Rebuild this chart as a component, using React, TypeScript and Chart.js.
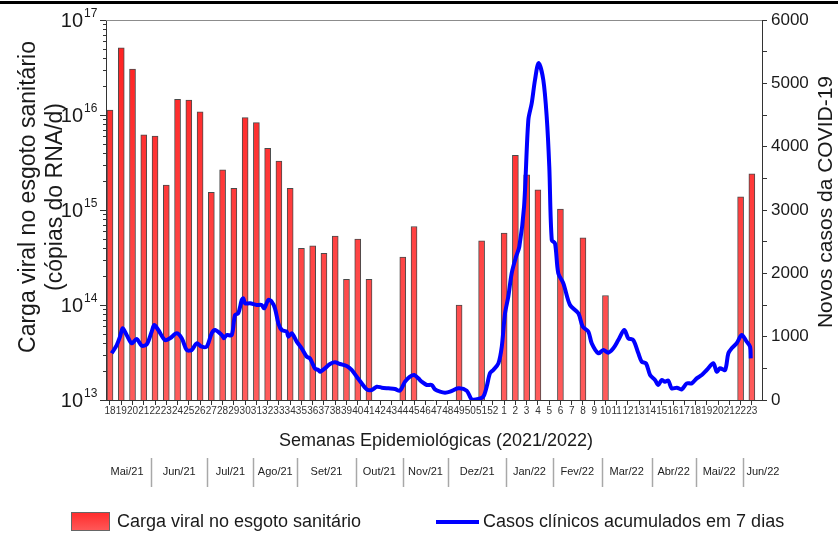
import React, { useEffect, useRef } from 'react';
import { Chart, registerables } from 'chart.js';

Chart.register(...registerables);

// Epidemiological weeks (2021: 18-52, 2022: 1-23)
const weekLabels = [
  '18', '19', '20', '21', '22', '23', '24', '25', '26', '27', '28', '29', '30', '31', '32', '33', '34',
  '35', '36', '37', '38', '39', '40', '41', '42', '43', '44', '45', '46', '47', '48', '49', '50', '51', '52',
  '1', '2', '3', '4', '5', '6', '7', '8', '9', '10', '11', '12', '13', '14', '15', '16', '17', '18', '19',
  '20', '21', '22', '23',
];

// Viral load in sewage (RNA copies / day), one value per week (null = no sample)
const viralLoad: (number | null)[] = [
  1.13e16, 5.1e16, 3.05e16, 6.2e15, 6.0e15, 1.83e15, 1.46e16, 1.44e16, 1.08e16, 1.53e15,
  2.64e15, 1.69e15, 9.4e15, 8.3e15, 4.46e15, 3.28e15, 1.69e15, 3.95e14, 4.2e14, 3.5e14,
  5.3e14, 1.86e14, 4.95e14, 1.86e14, null, null, 3.2e14, 6.7e14, null, null,
  null, 1.0e14, null, 4.75e14, null, 5.7e14, 3.77e15, 2.34e15, 1.63e15, null,
  1.02e15, null, 5.1e14, null, 1.26e14, null, null, null, null, null,
  null, null, null, null, null, null, 1.38e15, 2.41e15,
];

// 7-day accumulated clinical cases: position (week index, fractional) and count
const caseWeekPos = [
  0.15, 0.6, 0.89, 1.13, 1.48, 1.93, 2.37, 2.82, 3.26, 3.7, 3.93, 4.29, 4.88, 5.33, 5.92, 6.37,
  6.81, 7.26, 7.7, 8.14, 8.59, 9.03, 9.33, 9.92, 10.12, 10.36, 10.81, 11.1, 11.39, 11.7, 11.84,
  11.99, 12.43, 13.03, 13.47, 13.7, 14.06, 14.36, 14.65, 14.95, 15.25, 15.69, 15.83, 16.14,
  16.58, 17.02, 17.47, 17.76, 18.21, 18.5, 18.65, 19.09, 19.54, 19.98, 20.43, 21.02, 21.46,
  21.91, 22.35, 22.8, 23.24, 23.69, 24.13, 24.72, 25.31, 25.75, 26.2, 26.64, 27.02, 27.38,
  27.68, 28.13, 28.57, 28.86, 29.31, 29.75, 30.2, 30.93, 31.68, 32.12, 32.71, 33.15, 33.45,
  33.75, 34.04, 34.49, 34.79, 35.08, 35.37, 35.67, 36.06, 36.35, 36.77, 37.15, 37.45, 37.74,
  38.06, 38.48, 38.78, 39.01, 39.23, 39.52, 39.81, 40.26, 40.85, 41.59, 41.98, 42.48, 42.78,
  43.37, 43.81, 44.25, 44.7, 45.14, 45.67, 46.03, 46.47, 46.92, 47.22, 47.6, 47.96, 48.4,
  48.69, 48.99, 49.29, 49.58, 49.88, 50.33, 50.77, 51.22, 51.66, 52.1, 52.55, 52.99, 53.58,
  53.88, 54.17, 54.62, 54.91, 55.21, 55.65, 56.1, 56.54, 56.84, 56.9,
];
const caseCounts = [
  737, 868, 1000, 1132, 1026, 895, 963, 858, 879, 1079, 1184, 1105, 947, 974, 1053, 974,
  790, 790, 895, 842, 842, 1053, 1105, 1026, 974, 1026, 1026, 1342, 1369, 1579, 1605,
  1527, 1527, 1500, 1500, 1448, 1579, 1553, 1448, 1211, 1105, 1079, 1000, 1053,
  921, 816, 684, 658, 495, 474, 447, 500, 568, 595, 568, 537, 474,
  368, 263, 168, 158, 210, 195, 184, 174, 147, 289, 368, 395, 342,
  289, 237, 237, 168, 131, 116, 131, 184, 147, 10, 15, 52, 210,
  426, 474, 579, 842, 1368, 1632, 2000, 2263, 2421, 3053, 4421, 4685, 5053,
  5320, 5053, 4474, 3684, 2526, 2474, 2000, 1842, 1500, 1369, 1158, 1079, 895,
  737, 790, 747, 816, 947, 1105, 974, 947, 737, 605, 579, 395, 316,
  237, 316, 289, 305, 184, 195, 168, 263, 263, 342, 395, 474, 579,
  447, 500, 474, 737, 816, 895, 1026, 921, 842, 658,
];

// Left axis decades (powers of ten)
const leftExponents = [13, 14, 15, 16, 17];
// Right axis range
const rightMin = 0;
const rightMax = 6000;

// Month row under the axis (boundaries in week-index units)
const monthLabels = ['Mai/21', 'Jun/21', 'Jul/21', 'Ago/21', 'Set/21', 'Out/21', 'Nov/21',
  'Dez/21', 'Jan/22', 'Fev/22', 'Mar/22', 'Abr/22', 'Mai/22', 'Jun/22'];
const monthBounds = [-0.62, 3.64, 8.64, 12.73, 16.63, 21.82, 26.0, 30.04, 35.17, 39.32,
  43.67, 48.1, 52.0, 56.19, 59.77];

const xTitle = 'Semanas Epidemiológicas (2021/2022)';
const leftTitle = ['Carga viral no esgoto sanitário', '(cópias do RNA/d)'];
const rightTitle = 'Novos casos da COVID-19';
const barLegend = 'Carga viral no esgoto sanitário';
const lineLegend = 'Casos clínicos acumulados em 7 dias';

const FONT = '"Liberation Sans", Arial, Helvetica, sans-serif';
const TEXT = '#1a1a1a';

const decorations = {
  id: 'decorations',
  afterDraw(chart: any) {
    const { ctx, chartArea: a, scales } = chart;
    const xs = scales.x;
    const yl = scales.y;
    ctx.save();

    // top black rule
    ctx.fillStyle = '#000';
    ctx.fillRect(0, 1, chart.width, 3);

    // top frame line
    ctx.strokeStyle = '#8c8c8c';
    ctx.lineWidth = 1;
    ctx.beginPath();
    ctx.moveTo(a.left, a.top + 0.5);
    ctx.lineTo(a.right, a.top + 0.5);
    ctx.stroke();

    // left log ticks
    ctx.strokeStyle = '#333';
    ctx.lineWidth = 1;
    for (let k = 0; k < leftExponents.length; k++) {
      const e = leftExponents[k];
      const y = Math.round(yl.getPixelForValue(Math.pow(10, e))) + 0.5;
      ctx.beginPath();
      ctx.moveTo(a.left - 6, y);
      ctx.lineTo(a.left, y);
      ctx.stroke();
      if (k < leftExponents.length - 1) {
        for (let m = 2; m < 10; m++) {
          const ym = Math.round(yl.getPixelForValue(m * Math.pow(10, e))) + 0.5;
          ctx.beginPath();
          ctx.moveTo(a.left - 3, ym);
          ctx.lineTo(a.left, ym);
          ctx.stroke();
        }
      }
      // label 10^e
      ctx.fillStyle = TEXT;
      ctx.textBaseline = 'middle';
      ctx.textAlign = 'right';
      ctx.font = `20px ${FONT}`;
      ctx.fillText('10', a.left - 23, y + 1);
      ctx.textAlign = 'left';
      ctx.font = `12px ${FONT}`;
      ctx.fillText(String(e), a.left - 22, y - 7);
    }

    // left title (two lines, rotated)
    ctx.fillStyle = TEXT;
    ctx.textAlign = 'center';
    ctx.textBaseline = 'middle';
    ctx.font = `23px ${FONT}`;
    ctx.save();
    ctx.translate(29, 197);
    ctx.rotate(-Math.PI / 2);
    ctx.fillText(leftTitle[0], 0, 0);
    ctx.restore();
    ctx.save();
    ctx.translate(56, 197);
    ctx.rotate(-Math.PI / 2);
    ctx.fillText(leftTitle[1], 0, 0);
    ctx.restore();

    // right title
    ctx.font = `21px ${FONT}`;
    ctx.save();
    ctx.translate(826, 202);
    ctx.rotate(-Math.PI / 2);
    ctx.fillText(rightTitle, 0, 0);
    ctx.restore();

    // x title
    ctx.font = `18px ${FONT}`;
    ctx.fillText(xTitle, 436, 441);

    // month row
    ctx.font = `11px ${FONT}`;
    ctx.fillStyle = '#222';
    for (let i = 0; i < monthLabels.length; i++) {
      const x0 = xs.getPixelForValue(monthBounds[i]);
      const x1 = xs.getPixelForValue(monthBounds[i + 1]);
      ctx.fillText(monthLabels[i], (x0 + x1) / 2, 472);
    }
    ctx.strokeStyle = '#a8a8a8';
    ctx.lineWidth = 1.5;
    for (let i = 1; i < monthBounds.length - 1; i++) {
      const x = Math.round(xs.getPixelForValue(monthBounds[i])) + 0.5;
      ctx.beginPath();
      ctx.moveTo(x, 458);
      ctx.lineTo(x, 487);
      ctx.stroke();
    }

    // legend
    const g = ctx.createLinearGradient(0, 512, 0, 531);
    g.addColorStop(0, '#ff2a2a');
    g.addColorStop(1, '#ff5a5a');
    ctx.fillStyle = g;
    ctx.fillRect(71, 512, 39, 19);
    ctx.strokeStyle = '#666';
    ctx.lineWidth = 1;
    ctx.strokeRect(71.5, 512.5, 38, 18);
    ctx.fillStyle = TEXT;
    ctx.textAlign = 'left';
    ctx.font = `18px ${FONT}`;
    ctx.fillText(barLegend, 117, 522);
    ctx.strokeStyle = '#0000ff';
    ctx.lineWidth = 4;
    ctx.beginPath();
    ctx.moveTo(436, 522);
    ctx.lineTo(479, 522);
    ctx.stroke();
    ctx.fillText(lineLegend, 483, 522);

    ctx.restore();
  },
};

export default function App() {
  const canvasRef = useRef<HTMLCanvasElement | null>(null);

  useEffect(() => {
    document.body.style.margin = '0';
    const canvas = canvasRef.current;
    if (!canvas) return;

    const barData = viralLoad
      .map((v, i) => (v == null ? null : { x: i, y: v }))
      .filter((p) => p !== null) as { x: number; y: number }[];
    const lineData = caseWeekPos.map((x, i) => ({ x, y: caseCounts[i] }));

    const chart = new Chart(canvas, {
      type: 'bar',
      data: {
        datasets: [
          {
            type: 'line',
            label: lineLegend,
            data: lineData,
            xAxisID: 'x',
            yAxisID: 'y1',
            borderColor: '#0000ff',
            borderWidth: 4,
            pointRadius: 0,
            tension: 0.3,
            fill: false,
            order: 0,
          } as any,
          {
            type: 'bar',
            label: barLegend,
            data: barData,
            xAxisID: 'x',
            yAxisID: 'y',
            barThickness: 6,
            borderColor: '#4a4a4a',
            borderWidth: 1,
            borderSkipped: 'bottom',
            backgroundColor: (c: any) => {
              const area = c.chart.chartArea;
              if (!area) return '#ff3030';
              const gr = c.chart.ctx.createLinearGradient(0, area.top, 0, area.bottom);
              gr.addColorStop(0, '#ff1e1e');
              gr.addColorStop(1, '#ff5c5c');
              return gr;
            },
            order: 1,
          } as any,
        ],
      },
      options: {
        responsive: false,
        animation: false,
        devicePixelRatio: 1,
        layout: { padding: { top: 20, left: 0, right: 0, bottom: 0 } },
        plugins: {
          legend: { display: false },
          tooltip: { enabled: false },
        },
        scales: {
          x: {
            type: 'linear',
            position: 'bottom',
            min: -0.355,
            max: 57.9,
            offset: false,
            afterBuildTicks: (scale: any) => {
              scale.ticks = weekLabels.map((_, i) => ({ value: i }));
            },
            afterFit: (scale: any) => {
              scale.height = 135;
            },
            ticks: {
              autoSkip: false,
              maxRotation: 0,
              minRotation: 0,
              padding: 0,
              color: '#333',
              font: { family: FONT, size: 10 },
              callback: (_v: any, index: number) => weekLabels[index],
            },
            grid: {
              display: true,
              drawOnChartArea: false,
              drawTicks: true,
              tickLength: 5,
              color: '#333',
              offset: false,
            },
            border: { display: true, color: '#333', width: 1 },
          },
          y: {
            type: 'logarithmic',
            position: 'left',
            min: Math.pow(10, leftExponents[0]),
            max: Math.pow(10, leftExponents[leftExponents.length - 1]),
            afterFit: (scale: any) => {
              scale.width = 106;
            },
            ticks: { display: false },
            grid: { display: false },
            border: { display: true, color: '#333', width: 1 },
          },
          y1: {
            type: 'linear',
            position: 'right',
            min: rightMin,
            max: rightMax,
            afterFit: (scale: any) => {
              scale.width = 76;
            },
            ticks: {
              stepSize: 500,
              padding: 4,
              color: TEXT,
              font: { family: FONT, size: 17 },
              callback: (v: any) => (Number(v) % 1000 === 0 ? String(v) : ''),
            },
            grid: {
              display: true,
              drawOnChartArea: false,
              drawTicks: true,
              tickLength: 5,
              color: '#333',
            },
            border: { display: true, color: '#333', width: 1 },
          },
        },
      } as any,
      plugins: [decorations],
    });

    return () => chart.destroy();
  }, []);

  return (
    <div style={{ width: 838, height: 535, position: 'relative', background: '#fff' }}>
      <canvas ref={canvasRef} width={838} height={535} style={{ display: 'block' }} />
    </div>
  );
}
